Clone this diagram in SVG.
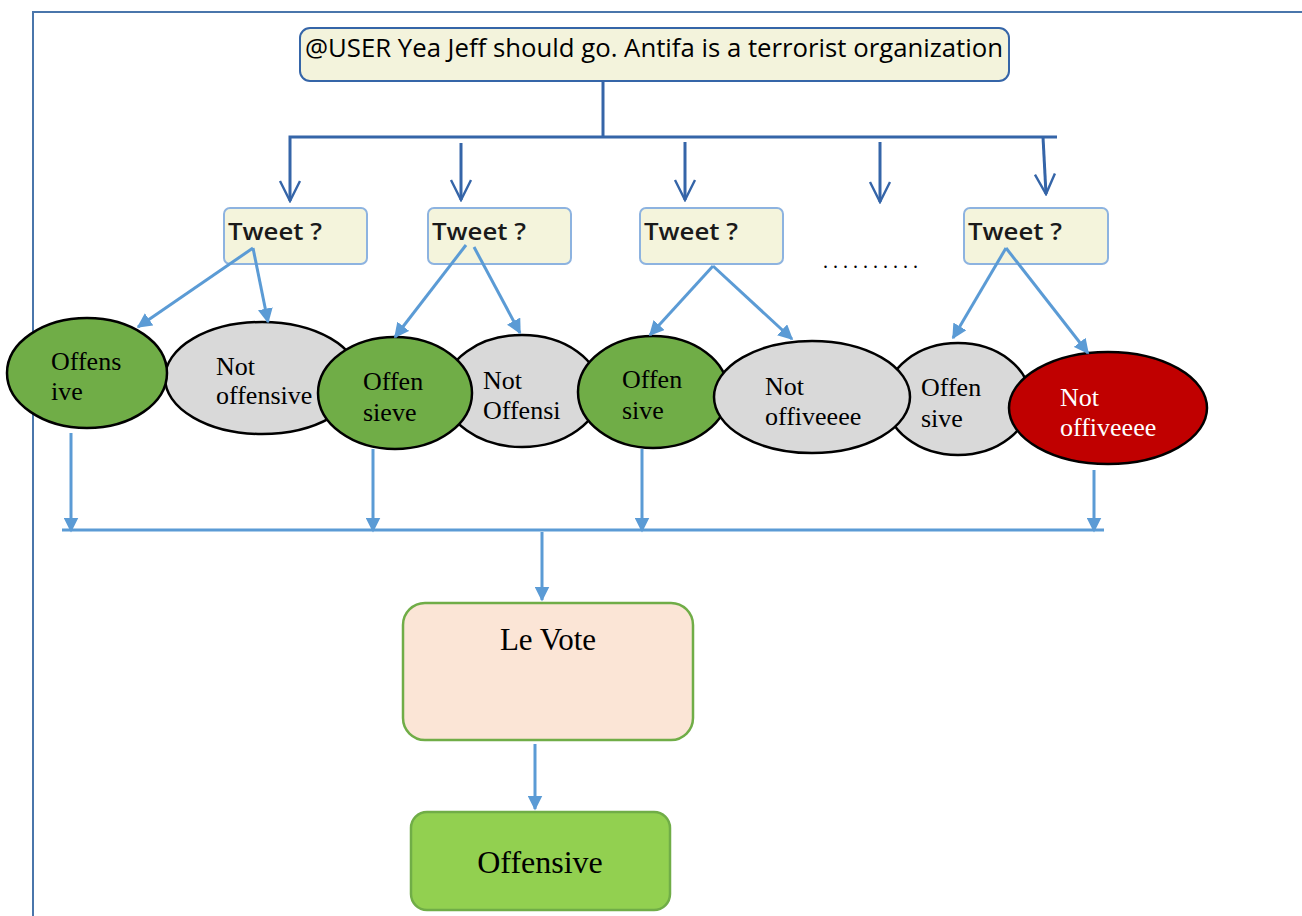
<svg xmlns="http://www.w3.org/2000/svg" width="1302" height="916" viewBox="0 0 1302 916">
  <style>
    .frame { stroke: #4a76ab; stroke-width: 2; fill: none; }
    .top { stroke: #3565a8; stroke-width: 3; fill: none; }
    .lb { stroke: #5b9bd5; stroke-width: 3; fill: none; }
    .tweet rect { fill: #f4f4dc; stroke: #8db3e0; stroke-width: 2; }
    .tweet text { font-family: "Open Sans", "Liberation Sans", Arial, sans-serif; font-size: 24px; font-weight: 600; fill: #1a1a1a; }
    .oval ellipse { stroke: #000; stroke-width: 2.5; }
    .oval text { font-family: "Liberation Serif", "Times New Roman", serif; font-size: 26px; fill: #000; }
    .green ellipse { fill: #70ad47; }
    .gray ellipse { fill: #d9d9d9; }
    .red ellipse { fill: #c00000; }
    .red text { fill: #fff; }
    .serif { font-family: "Liberation Serif", "Times New Roman", serif; fill: #000; }
  </style>
  <defs>
    <marker id="open" viewBox="0 0 12 12" refX="11" refY="6" markerWidth="8" markerHeight="8" orient="auto" markerUnits="strokeWidth">
      <path d="M1,1 L11,6 L1,11" fill="none" stroke="#3565a8" stroke-width="1.2"/>
    </marker>
    <marker id="fill" viewBox="0 0 10 10" refX="9" refY="5" markerWidth="5" markerHeight="5" orient="auto" markerUnits="strokeWidth">
      <path d="M0,0 L10,5 L0,10 z" fill="#5b9bd5"/>
    </marker>
  </defs>

  <!-- outer frame edges -->
  <path class="frame" d="M33,916 V12 H1302"/>

  <!-- top tweet -->
  <g id="tweet-input">
    <rect x="300" y="28" width="709" height="53" rx="10" fill="#f3f3dc" stroke="#3565a8" stroke-width="2"/>
    <text x="305" y="57" font-family="'Open Sans', 'Liberation Sans', Arial, sans-serif" font-size="25" textLength="698" lengthAdjust="spacingAndGlyphs" fill="#000">@USER Yea Jeff should go. Antifa is a terrorist organization</text>
  </g>

  <!-- tweet boxes -->
  <g id="tweet-1" class="tweet">
    <rect x="224" y="208" width="143" height="56" rx="6"/>
    <text x="228" y="240" textLength="94" lengthAdjust="spacingAndGlyphs">Tweet ?</text>
  </g>
  <g id="tweet-2" class="tweet">
    <rect x="428" y="208" width="143" height="56" rx="6"/>
    <text x="432" y="240" textLength="94" lengthAdjust="spacingAndGlyphs">Tweet ?</text>
  </g>
  <g id="tweet-3" class="tweet">
    <rect x="640" y="208" width="143" height="56" rx="6"/>
    <text x="644" y="240" textLength="94" lengthAdjust="spacingAndGlyphs">Tweet ?</text>
  </g>
  <g id="ellipsis">
    <text x="823" y="268" class="serif" font-size="20" letter-spacing="5">..........</text>
  </g>
  <g id="tweet-n" class="tweet">
    <rect x="964" y="208" width="144" height="56" rx="6"/>
    <text x="968" y="240" textLength="94" lengthAdjust="spacingAndGlyphs">Tweet ?</text>
  </g>

  <!-- label ovals -->
  <g id="label-2" class="oval gray">
    <ellipse cx="262" cy="378" rx="97" ry="56"/>
    <text x="216" y="375">Not</text>
    <text x="216" y="404">offensive</text>
  </g>
  <g id="label-1" class="oval green">
    <ellipse cx="87" cy="373" rx="80" ry="55"/>
    <text x="51" y="370">Offens</text>
    <text x="51" y="400">ive</text>
  </g>
  <g id="label-4" class="oval gray">
    <ellipse cx="522" cy="391" rx="78" ry="56"/>
    <text x="483" y="389">Not</text>
    <text x="483" y="419">Offensi</text>
  </g>
  <g id="label-3" class="oval green">
    <ellipse cx="395" cy="393" rx="77" ry="56"/>
    <text x="363" y="390">Offen</text>
    <text x="363" y="421">sieve</text>
  </g>
  <g id="label-5" class="oval green">
    <ellipse cx="653" cy="392" rx="75" ry="56"/>
    <text x="622" y="388">Offen</text>
    <text x="622" y="419">sive</text>
  </g>
  <g id="label-7" class="oval gray">
    <ellipse cx="958" cy="399" rx="72" ry="56"/>
    <text x="921" y="396">Offen</text>
    <text x="921" y="427">sive</text>
  </g>
  <g id="label-6" class="oval gray">
    <ellipse cx="812" cy="397" rx="98" ry="56"/>
    <text x="765" y="395">Not</text>
    <text x="765" y="425">offiveeee</text>
  </g>
  <g id="label-8" class="oval red">
    <ellipse cx="1108" cy="408" rx="99" ry="56"/>
    <text x="1060" y="406">Not</text>
    <text x="1060" y="436">offiveeee</text>
  </g>

  <!-- vote and result -->
  <g id="vote">
    <rect x="403" y="603" width="290" height="137" rx="22" fill="#fbe5d6" stroke="#70ad47" stroke-width="2.5"/>
    <text x="548" y="650" class="serif" font-size="31" text-anchor="middle">Le Vote</text>
  </g>
  <g id="result">
    <rect x="411" y="812" width="259" height="98" rx="16" fill="#92d050" stroke="#70ad47" stroke-width="2.5"/>
    <text x="540" y="873" class="serif" font-size="32" text-anchor="middle">Offensive</text>
  </g>

  <g id="connectors">
    <!-- fan-out from the input tweet -->
    <path class="top" d="M603,81 V137"/>
    <path class="top" d="M1057,137 H290 V201" marker-end="url(#open)"/>
    <path class="top" d="M461,143 V200" marker-end="url(#open)"/>
    <path class="top" d="M685,142 V200" marker-end="url(#open)"/>
    <path class="top" d="M880,142 V202" marker-end="url(#open)"/>
    <path class="top" d="M1043,137 L1046,194" marker-end="url(#open)"/>

    <!-- tweet to label arrows -->
    <path class="lb" d="M253,248 L138,327" marker-end="url(#fill)"/>
    <path class="lb" d="M253,248 L268,322" marker-end="url(#fill)"/>
    <path class="lb" d="M466,245 L395,337" marker-end="url(#fill)"/>
    <path class="lb" d="M474,247 L520,333" marker-end="url(#fill)"/>
    <path class="lb" d="M713,266 L650,335" marker-end="url(#fill)"/>
    <path class="lb" d="M713,266 L792,339" marker-end="url(#fill)"/>
    <path class="lb" d="M1006,248 L953,338" marker-end="url(#fill)"/>
    <path class="lb" d="M1006,248 L1088,353" marker-end="url(#fill)"/>

    <!-- labels to collector bar -->
    <path class="lb" d="M71,433 V531" marker-end="url(#fill)"/>
    <path class="lb" d="M373,449 V531" marker-end="url(#fill)"/>
    <path class="lb" d="M642,449 V531" marker-end="url(#fill)"/>
    <path class="lb" d="M1094,470 V531" marker-end="url(#fill)"/>
    <path class="lb" d="M62,530 H1104" stroke-width="4"/>

    <!-- collector to vote, vote to result -->
    <path class="lb" d="M542,532 V600" marker-end="url(#fill)"/>
    <path class="lb" d="M535,744 V809" marker-end="url(#fill)"/>
  </g>
</svg>
